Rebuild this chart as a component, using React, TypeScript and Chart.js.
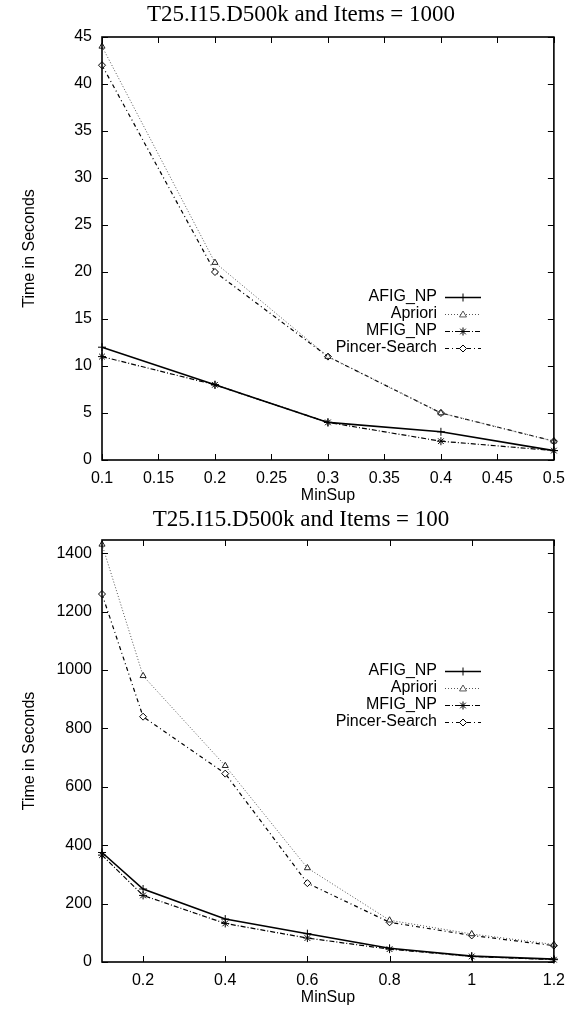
import React, { useEffect, useRef } from "react";
import { Chart, registerables } from "chart.js";

Chart.register(...registerables);

// Series names, shared by both panels
const SERIES_NAMES = ["AFIG_NP", "Apriori", "MFIG_NP", "Pincer-Search"];

// Panel 1: T25.I15.D500k, 1000 items
const TOP_TITLE = "T25.I15.D500k and Items = 1000";
const TOP_MINSUP = [0.1, 0.2, 0.3, 0.4, 0.5];
const TOP_AFIG_NP = [12, 8, 4, 3, 1];
const TOP_APRIORI = [44, 21, 11, 5, 2];
const TOP_MFIG_NP = [11, 8, 4, 2, 1];
const TOP_PINCER = [42, 20, 11, 5, 2];
const TOP_X_TICKS = [0.1, 0.15, 0.2, 0.25, 0.3, 0.35, 0.4, 0.45, 0.5];
const TOP_Y_TICKS = [0, 5, 10, 15, 20, 25, 30, 35, 40, 45];

// Panel 2: T25.I15.D500k, 100 items
const BOTTOM_TITLE = "T25.I15.D500k and Items = 100";
const BOTTOM_MINSUP = [0.1, 0.2, 0.4, 0.6, 0.8, 1.0, 1.2];
const BOTTOM_AFIG_NP = [375, 250, 147, 97, 47, 20, 10];
const BOTTOM_APRIORI = [1430, 980, 672, 322, 143, 96, 60];
const BOTTOM_MFIG_NP = [366, 228, 132, 82, 44, 19, 8];
const BOTTOM_PINCER = [1260, 840, 645, 270, 136, 91, 56];
const BOTTOM_X_TICKS = [0.2, 0.4, 0.6, 0.8, 1.0, 1.2];
const BOTTOM_Y_TICKS = [0, 200, 400, 600, 800, 1000, 1200, 1400];

const SANS = "'Liberation Sans', Arial, sans-serif";
const SERIF = "'Liberation Serif', 'Times New Roman', serif";

type Style = { color: string; width: number; dash: number[]; point: string; radius: number };

const STYLES: Style[] = [
  { color: "#000000", width: 1.6, dash: [], point: "cross", radius: 4 },
  { color: "#555555", width: 1, dash: [1, 2], point: "triangle", radius: 3.5 },
  { color: "#000000", width: 1.2, dash: [5, 2, 1, 2], point: "star", radius: 4 },
  { color: "#000000", width: 1.2, dash: [4, 3, 1, 3], point: "rectRot", radius: 3.5 },
];

type PanelProps = {
  title: string;
  minsup: number[];
  series: number[][];
  xTicks: number[];
  yTicks: number[];
  xMin: number;
  xMax: number;
  yMax: number;
  height: number;
  plotTop: number;
  plotBottom: number;
  legendTop: number;
};

function drawMarker(ctx: CanvasRenderingContext2D, kind: string, x: number, y: number, r: number) {
  ctx.beginPath();
  if (kind === "cross") {
    ctx.moveTo(x - r, y);
    ctx.lineTo(x + r, y);
    ctx.moveTo(x, y - r);
    ctx.lineTo(x, y + r);
    ctx.stroke();
  } else if (kind === "star") {
    ctx.moveTo(x - r, y);
    ctx.lineTo(x + r, y);
    ctx.moveTo(x, y - r);
    ctx.lineTo(x, y + r);
    const d = r * 0.7;
    ctx.moveTo(x - d, y - d);
    ctx.lineTo(x + d, y + d);
    ctx.moveTo(x - d, y + d);
    ctx.lineTo(x + d, y - d);
    ctx.stroke();
  } else if (kind === "triangle") {
    ctx.moveTo(x, y - r);
    ctx.lineTo(x + r, y + r * 0.7);
    ctx.lineTo(x - r, y + r * 0.7);
    ctx.closePath();
    ctx.fill();
    ctx.stroke();
  } else {
    ctx.moveTo(x, y - r);
    ctx.lineTo(x + r, y);
    ctx.lineTo(x, y + r);
    ctx.lineTo(x - r, y);
    ctx.closePath();
    ctx.fill();
    ctx.stroke();
  }
}

function Panel(props: PanelProps) {
  const ref = useRef<HTMLCanvasElement | null>(null);

  useEffect(() => {
    const canvas = ref.current;
    if (!canvas) return;
    const width = 574;
    const plotLeft = 102;
    const plotRight = 558;

    // Frame with inward, mirrored tick marks, titles and key
    const frame = {
      id: "frame",
      afterDatasetsDraw(chart: any) {
        const { ctx, chartArea } = chart;
        const { left, right, top, bottom } = chartArea;
        const xs = chart.scales.x;
        const ys = chart.scales.y;
        ctx.save();
        ctx.strokeStyle = "#000";
        ctx.lineWidth = 1;
        ctx.setLineDash([]);
        ctx.beginPath();
        for (const v of props.xTicks) {
          const px = Math.round(xs.getPixelForValue(v)) + 0.5;
          ctx.moveTo(px, bottom);
          ctx.lineTo(px, bottom - 6);
          ctx.moveTo(px, top);
          ctx.lineTo(px, top + 6);
        }
        for (const v of props.yTicks) {
          const py = Math.round(ys.getPixelForValue(v)) + 0.5;
          ctx.moveTo(left, py);
          ctx.lineTo(left + 6, py);
          ctx.moveTo(right, py);
          ctx.lineTo(right - 6, py);
        }
        ctx.stroke();
        ctx.lineWidth = 1.6;
        ctx.strokeRect(left, top, right - left, bottom - top);

        // Titles
        ctx.fillStyle = "#000";
        ctx.textAlign = "center";
        ctx.textBaseline = "middle";
        ctx.font = `23px ${SERIF}`;
        ctx.fillText(props.title, 301, 15);
        ctx.font = `16px ${SANS}`;
        ctx.fillText("MinSup", (left + right) / 2, bottom + 36);
        ctx.save();
        ctx.translate(30, (top + bottom) / 2);
        ctx.rotate(-Math.PI / 2);
        ctx.fillText("Time in Seconds", 0, 0);
        ctx.restore();

        // Key
        ctx.textAlign = "right";
        ctx.font = `16px ${SANS}`;
        SERIES_NAMES.forEach((name, i) => {
          const y = props.legendTop + i * 17;
          const s = STYLES[i];
          ctx.fillStyle = "#000";
          ctx.fillText(name, 437, y);
          ctx.strokeStyle = s.color;
          ctx.lineWidth = s.width;
          ctx.setLineDash(s.dash);
          ctx.beginPath();
          ctx.moveTo(445, y + 0.5);
          ctx.lineTo(481, y + 0.5);
          ctx.stroke();
          ctx.setLineDash([]);
          ctx.lineWidth = 1;
          ctx.fillStyle = "#fff";
          drawMarker(ctx, s.point, 463, y + 0.5, s.radius);
        });
        ctx.restore();
      },
    };

    const fmt = (v: number) => String(Number(v.toFixed(2)));

    const chart = new Chart(canvas, {
      type: "line",
      data: {
        datasets: props.series.map((vals, i) => ({
          label: SERIES_NAMES[i],
          data: props.minsup.map((x, j) => ({ x, y: vals[j] })),
          borderColor: STYLES[i].color,
          borderWidth: STYLES[i].width,
          borderDash: STYLES[i].dash,
          pointStyle: STYLES[i].point as any,
          pointRadius: STYLES[i].radius,
          pointBorderColor: STYLES[i].color === "#555555" ? "#222" : "#000",
          pointBackgroundColor: "#fff",
          pointBorderWidth: 1,
          fill: false,
          tension: 0,
          clip: false as any,
        })),
      },
      options: {
        responsive: false,
        animation: false,
        events: [],
        layout: {
          padding: { top: props.plotTop, right: width - plotRight, left: 0, bottom: 0 },
        },
        plugins: { legend: { display: false }, tooltip: { enabled: false }, title: { display: false } },
        scales: {
          x: {
            type: "linear",
            min: props.xMin,
            max: props.xMax,
            afterBuildTicks: (s: any) => {
              s.ticks = props.xTicks.map((v) => ({ value: v }));
            },
            afterFit: (s: any) => {
              s.height = props.height - props.plotBottom;
            },
            grid: { display: false, drawTicks: false },
            border: { display: false },
            ticks: {
              autoSkip: false,
              maxRotation: 0,
              padding: 9,
              color: "#000",
              font: { family: SANS, size: 16 },
              callback: (v: any) => fmt(Number(v)),
            },
          },
          y: {
            type: "linear",
            min: 0,
            max: props.yMax,
            afterBuildTicks: (s: any) => {
              s.ticks = props.yTicks.map((v) => ({ value: v }));
            },
            afterFit: (s: any) => {
              s.width = plotLeft;
            },
            grid: { display: false, drawTicks: false },
            border: { display: false },
            ticks: {
              autoSkip: false,
              padding: 10,
              color: "#000",
              font: { family: SANS, size: 16 },
              callback: (v: any) => String(v),
            },
          },
        },
      },
      plugins: [frame],
    });
    return () => chart.destroy();
  }, []);

  return (
    <canvas
      ref={ref}
      width={574}
      height={props.height}
      style={{ display: "block", width: 574, height: props.height }}
    />
  );
}

export default function App() {
  return (
    <div style={{ position: "absolute", left: 0, top: 0, width: 574, height: 1011, background: "#fff" }}>
      <Panel
        title={TOP_TITLE}
        minsup={TOP_MINSUP}
        series={[TOP_AFIG_NP, TOP_APRIORI, TOP_MFIG_NP, TOP_PINCER]}
        xTicks={TOP_X_TICKS}
        yTicks={TOP_Y_TICKS}
        xMin={0.1}
        xMax={0.5}
        yMax={45}
        height={505}
        plotTop={37}
        plotBottom={460}
        legendTop={297}
      />
      <Panel
        title={BOTTOM_TITLE}
        minsup={BOTTOM_MINSUP}
        series={[BOTTOM_AFIG_NP, BOTTOM_APRIORI, BOTTOM_MFIG_NP, BOTTOM_PINCER]}
        xTicks={BOTTOM_X_TICKS}
        yTicks={BOTTOM_Y_TICKS}
        xMin={0.1}
        xMax={1.2}
        yMax={1445}
        height={506}
        plotTop={35}
        plotBottom={457}
        legendTop={166}
      />
    </div>
  );
}
